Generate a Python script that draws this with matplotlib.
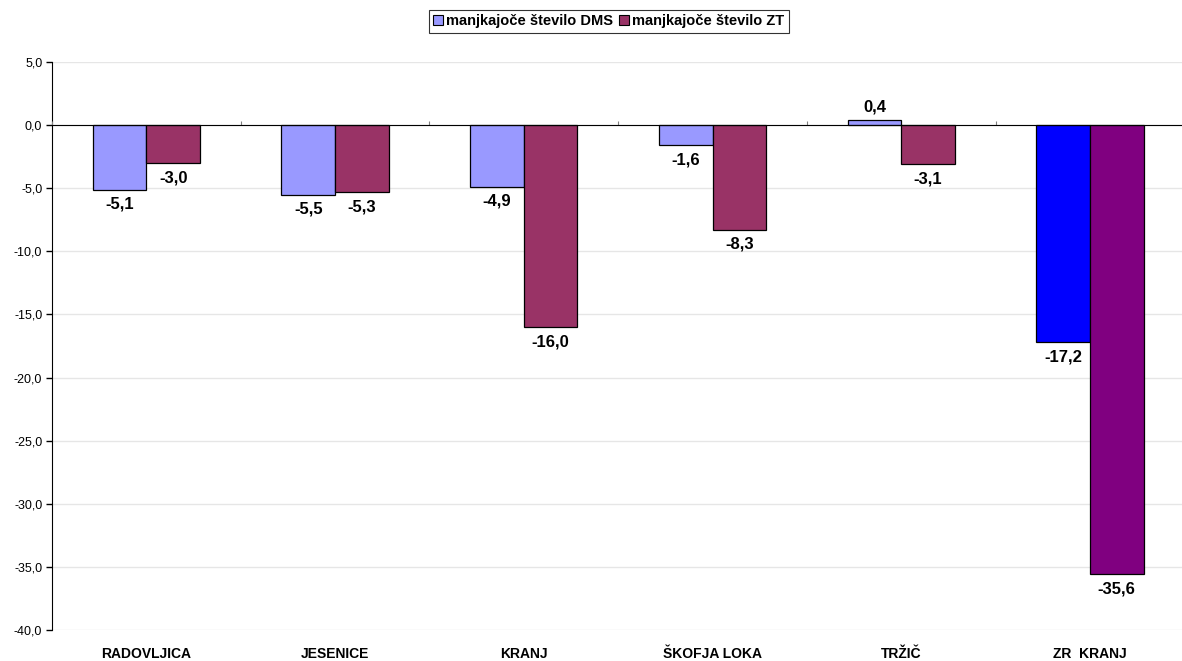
import numpy as np
import matplotlib
matplotlib.use("Agg")
import matplotlib.pyplot as plt
from matplotlib.patches import Patch

categories = ["RADOVLJICA", "JESENICE", "KRANJ", "ŠKOFJA LOKA", "TRŽIČ", "ZR  KRANJ"]
dms = [-5.1, -5.5, -4.9, -1.6, 0.4, -17.2]
zt = [-3.0, -5.3, -16.0, -8.3, -3.1, -35.6]
series_names = ["manjkajoče število DMS", "manjkajoče število ZT"]

dms_colors = ["#9999FF"] * 5 + ["#0000FF"]
zt_colors = ["#993366"] * 5 + ["#800080"]

plt.rcParams['font.family'] = ['Liberation Sans', 'DejaVu Sans']

fig = plt.figure(figsize=(11.82, 6.61), dpi=100)
ax = fig.add_axes([0.044, 0.047, 0.958, 0.859])

x = np.arange(len(categories))
w = 0.284
b1 = ax.bar(x - w / 2, dms, w, color=dms_colors, edgecolor="black", linewidth=0.9, zorder=3)
b2 = ax.bar(x + w / 2, zt, w, color=zt_colors, edgecolor="black", linewidth=0.9, zorder=3)

def fmt(v):
    return ("%.1f" % v).replace(".", ",")

for bars, vals in ((b1, dms), (b2, zt)):
    for r, v in zip(bars, vals):
        cx = r.get_x() + r.get_width() / 2
        if v < 0:
            ax.annotate(fmt(v), (cx, v), xytext=(0, -5), textcoords="offset points",
                        ha="center", va="top", fontsize=12, fontweight="bold")
        else:
            ax.annotate(fmt(v), (cx, v), xytext=(0, 4), textcoords="offset points",
                        ha="center", va="bottom", fontsize=12, fontweight="bold")

ax.set_xlim(-0.5, len(categories) - 0.5)
ax.set_ylim(-40, 5)
yt = np.arange(-40, 5.1, 5)
ax.set_yticks(yt)
ax.set_yticklabels([fmt(v) for v in yt], fontsize=9)
ax.yaxis.grid(True, color="#E6E6E6", linewidth=1, zorder=0)
ax.set_axisbelow(True)

ax.set_xticks(x)
ax.set_xticklabels(categories, fontsize=10, fontweight="bold")
ax.tick_params(axis="x", length=0, pad=12)
ax.tick_params(axis="y", length=4, width=1, direction="out", pad=3)

for s in ("top", "right", "bottom"):
    ax.spines[s].set_visible(False)
ax.spines["left"].set_color("black")

# zero line with small category-boundary ticks
zero_frac = (0 - (-40)) / 45.0
sec = ax.secondary_xaxis(zero_frac)
sec.set_xticks(np.arange(len(categories) + 1) - 0.5)
sec.set_xticklabels([])
sec.tick_params(axis="x", length=3, width=0.8, direction="out", color="#808080")
sec.spines["bottom"].set_color("black")
sec.spines["bottom"].set_linewidth(1)
sec.set_zorder(4)

handles = [Patch(facecolor="#9999FF", edgecolor="black", linewidth=0.8),
           Patch(facecolor="#993366", edgecolor="black", linewidth=0.8)]
leg = fig.legend(handles, series_names, loc="center", bbox_to_anchor=(0.515, 0.968),
                 ncol=2, prop={"weight": "bold", "size": 10.5}, frameon=True,
                 fancybox=False, handlelength=0.7, handleheight=0.7, handletextpad=0.2,
                 columnspacing=0.4, borderpad=0.3, borderaxespad=0)
leg.get_frame().set_edgecolor("black")
leg.get_frame().set_linewidth(0.8)

fig.savefig("out.png", dpi=100)
